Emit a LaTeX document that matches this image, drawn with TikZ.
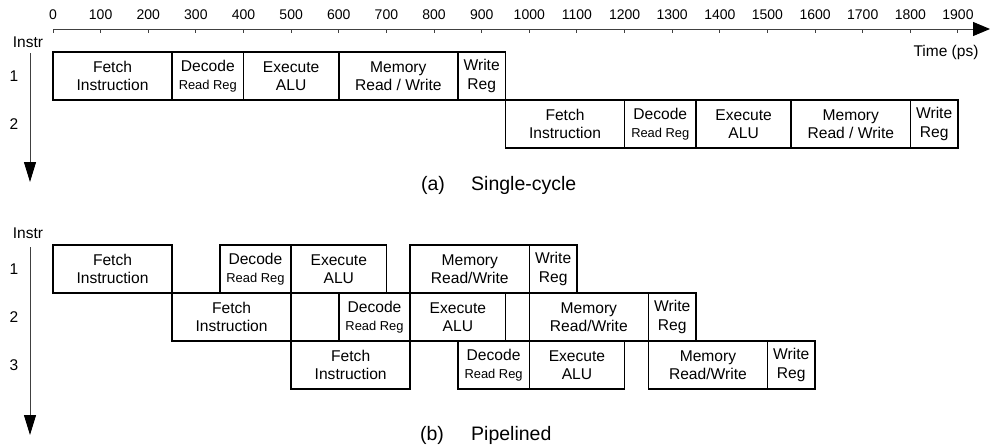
\documentclass[tikz,border=0pt]{standalone}
\usepackage{fontspec}
\setmainfont{Liberation Sans}
\usetikzlibrary{arrows.meta}
\newcommand\rr{{\fontsize{12.9}{15}\selectfont Read Reg}}
\newcommand\stage[5]{\node[stg, minimum width={(#3-#2)*0.4763pt}, anchor=north west] (#1) at ({53+0.4763*#2},#4) {#5};}
\begin{document}
\begin{tikzpicture}[x=1pt,y=-1pt,
  stg/.style={draw, line width=1.6pt, inner sep=0pt, outer sep=0pt, minimum height=48pt, align=center, font=\fontsize{15.6}{18.5}\selectfont},
  lbl/.style={font=\fontsize{15.5}{18}\selectfont, inner sep=0pt},
  num/.style={font=\fontsize{14}{16}\selectfont, inner sep=0pt},
  captxt/.style={font=\fontsize{19.5}{22}\selectfont, inner sep=0pt},
  axisln/.style={line width=1pt, black!75},
]
\useasboundingbox (0,0) rectangle (990,447);
% time axis
\coordinate (ax0) at (53,29);
\coordinate (ax1) at (990,29);
\draw[axisln, -{Triangle[length=17pt,width=14pt,color=black,fill=black]}] (ax0) -- (ax1);
\foreach \t in {0,100,...,1900} {
  \draw[axisln] ({53+0.4763*\t},29) -- ({53+0.4763*\t},33);
  \node[num] (n\t) at ({53+0.4763*\t},15) {\t};
}
\node[lbl] (time) at (946,52) {Time (ps)};
% (a) single-cycle
\node[lbl] (instrA) at (28,42) {Instr};
\coordinate (va0) at (30,53);
\coordinate (va1) at (30,182);
\draw[axisln, -{Triangle[length=20pt,width=12pt,color=black,fill=black]}] (va0) -- (va1);
\node[lbl] (ra1) at (14,76) {1};
\node[lbl] (ra2) at (14,124) {2};
\stage{a1f}{0}{250}{52}{Fetch\\Instruction}
\stage{a1d}{250}{400}{52}{Decode\\\rr}
\stage{a1e}{400}{600}{52}{Execute\\ALU}
\stage{a1m}{600}{850}{52}{Memory\\Read / Write}
\stage{a1w}{850}{950}{52}{Write\\Reg}
\stage{a2f}{950}{1200}{100}{Fetch\\Instruction}
\stage{a2d}{1200}{1350}{100}{Decode\\\rr}
\stage{a2e}{1350}{1550}{100}{Execute\\ALU}
\stage{a2m}{1550}{1800}{100}{Memory\\Read / Write}
\stage{a2w}{1800}{1900}{100}{Write\\Reg}
\node[captxt] (capa) at (433,185) {(a)};
\node[captxt, anchor=west] (capat) at (471,185) {Single-cycle};
% (b) pipelined
\node[lbl] (instrB) at (28,233) {Instr};
\coordinate (vb0) at (30,247);
\coordinate (vb1) at (30,435);
\draw[axisln, -{Triangle[length=20pt,width=12pt,color=black,fill=black]}] (vb0) -- (vb1);
\node[lbl] (rb1) at (14,269) {1};
\node[lbl] (rb2) at (14,317) {2};
\node[lbl] (rb3) at (14,365) {3};
\stage{b1f}{0}{250}{245}{Fetch\\Instruction}
\stage{b1d}{350}{500}{245}{Decode\\\rr}
\stage{b1e}{500}{700}{245}{Execute\\ALU}
\stage{b1m}{750}{1000}{245}{Memory\\Read/Write}
\stage{b1w}{1000}{1100}{245}{Write\\Reg}
\stage{b2f}{250}{500}{293}{Fetch\\Instruction}
\stage{b2d}{600}{750}{293}{Decode\\\rr}
\stage{b2e}{750}{950}{293}{Execute\\ALU}
\stage{b2m}{1000}{1250}{293}{Memory\\Read/Write}
\stage{b2w}{1250}{1350}{293}{Write\\Reg}
\stage{b3f}{500}{750}{341}{Fetch\\Instruction}
\stage{b3d}{850}{1000}{341}{Decode\\\rr}
\stage{b3e}{1000}{1200}{341}{Execute\\ALU}
\stage{b3m}{1250}{1500}{341}{Memory\\Read/Write}
\stage{b3w}{1500}{1600}{341}{Write\\Reg}
\node[captxt] (capb) at (432,435) {(b)};
\node[captxt, anchor=west] (capbt) at (471,435) {Pipelined};
\end{tikzpicture}
\end{document}
